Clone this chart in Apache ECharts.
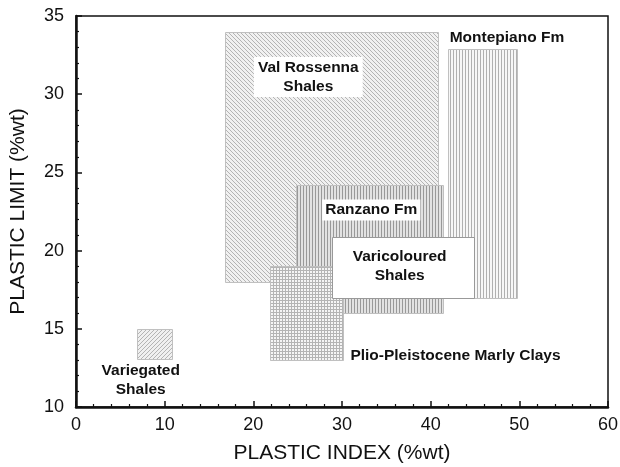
<!DOCTYPE html>
<html><head><meta charset="utf-8">
<script src="https://cdn.jsdelivr.net/npm/echarts@6/dist/echarts.min.js"></script>
<style>html,body{margin:0;padding:0;background:#fff}#c{width:620px;height:467px}</style>
</head><body><div id="c"></div>
<script>
// Regions: plastic index (x) range and plastic limit (y) range
const regionNames = ['Val Rossenna Shales', 'Ranzano Fm', 'Montepiano Fm', 'Plio-Pleistocene Marly Clays', 'Variegated Shales', 'Varicoloured Shales'];
const piMin = [16.8, 24.8, 42.0, 21.9, 6.9, 28.9];
const piMax = [40.8, 41.4, 49.8, 30.1, 10.9, 44.9];
const plMin = [18.0, 16.0, 17.0, 13.0, 13.1, 17.0];
const plMax = [34.0, 24.2, 32.9, 19.0, 15.0, 20.9];

// Label texts and anchors (data coords)
const labelTexts = ['Val Rossenna\nShales', 'Ranzano Fm', 'Montepiano Fm', 'Plio-Pleistocene Marly Clays', 'Variegated\nShales', 'Varicoloured\nShales'];
const labelX = [26.2, 33.3, 48.6, 42.8, 7.3, 36.5];
const labelY = [31.1, 22.6, 33.6, 13.3, 11.7, 19.0];

function makePattern(kind) {
  const c = document.createElement('canvas');
  const ctx = c.getContext('2d');
  if (kind === 'back' || kind === 'fwd') {
    c.width = 4; c.height = 4;
    ctx.fillStyle = kind === 'back' ? '#f1f1f1' : '#f0f0f0'; ctx.fillRect(0,0,4,4);
    ctx.fillStyle = '#b4b4b4';
    for (let k = 0; k < 4; k++) {
      ctx.fillRect(kind === 'back' ? k : 3 - k, k, 1, 1);
    }
  } else if (kind === 'vdense') {
    c.width = 3; c.height = 3;
    ctx.fillStyle = '#e2e2e2'; ctx.fillRect(0,0,3,3);
    ctx.fillStyle = '#999999'; ctx.fillRect(0,0,1,3);
  } else if (kind === 'vlight') {
    c.width = 3; c.height = 3;
    ctx.fillStyle = '#f7f7f7'; ctx.fillRect(0,0,3,3);
    ctx.fillStyle = '#b0b0b0'; ctx.fillRect(0,0,1,3);
  } else if (kind === 'grid') {
    c.width = 3; c.height = 3;
    ctx.fillStyle = '#f5f5f5'; ctx.fillRect(0,0,3,3);
    ctx.fillStyle = '#b4b4b4'; ctx.fillRect(0,0,1,3); ctx.fillRect(0,0,3,1);
  }
  return c;
}
const fills = [
  {image: makePattern('back'), repeat: 'repeat'},
  {image: makePattern('vdense'), repeat: 'repeat'},
  {image: makePattern('vlight'), repeat: 'repeat'},
  {image: makePattern('grid'), repeat: 'repeat'},
  {image: makePattern('fwd'), repeat: 'repeat'},
  '#ffffff'
];

const rectData = regionNames.map((n, i) => [piMin[i], piMax[i], plMin[i], plMax[i]]);
const labelData = labelTexts.map((t, i) => [labelX[i], labelY[i]]);

const labelBg = [true, true, false, false, false, false];
const fontFam = '"Liberation Sans", Arial, sans-serif';

const chart = echarts.init(document.getElementById('c'), null, {renderer: 'canvas'});
chart.setOption({
  animation: false,
  backgroundColor: '#fff',
  grid: {left: 76, right: 12, top: 16, bottom: 60, containLabel: false, outerBoundsMode: 'none', show: true, borderColor: '#111', borderWidth: 1.5, backgroundColor: 'transparent'},
  xAxis: {
    type: 'value', min: 0, max: 60, interval: 10,
    name: 'PLASTIC INDEX (%wt)', nameLocation: 'middle', nameGap: 36,
    nameTextStyle: {fontFamily: fontFam, fontSize: 21, color: '#111'},
    axisLine: {show: true, onZero: false, lineStyle: {color: '#111', width: 2.5}},
    axisTick: {show: true, inside: true, length: 6, lineStyle: {color: '#111', width: 1.5}},
    minorTick: {show: true, splitNumber: 5, length: 3, lineStyle: {color: '#111', width: 1.2}},
    axisLabel: {fontFamily: fontFam, fontSize: 18, color: '#111', margin: 9},
    splitLine: {show: false}
  },
  yAxis: {
    type: 'value', min: 10, max: 35, interval: 5,
    name: 'PLASTIC LIMIT (%wt)', nameLocation: 'middle', nameGap: 47,
    nameTextStyle: {fontFamily: fontFam, fontSize: 21, color: '#111'},
    axisLine: {show: true, onZero: false, lineStyle: {color: '#111', width: 2.5}},
    axisTick: {show: true, inside: true, length: 6, lineStyle: {color: '#111', width: 1.5}},
    minorTick: {show: true, splitNumber: 5, length: 3, lineStyle: {color: '#111', width: 1.2}},
    axisLabel: {fontFamily: fontFam, fontSize: 18, color: '#111', margin: 12},
    splitLine: {show: false}
  },
  series: [
    {
      type: 'custom',
      data: rectData,
      encode: {x: [0, 1], y: [2, 3]},
      clip: true,
      renderItem: function (params, api) {
        const i = params.dataIndex;
        const p0 = api.coord([api.value(0), api.value(3)]);
        const p1 = api.coord([api.value(1), api.value(2)]);
        return {
          type: 'rect',
          shape: {x: Math.round(p0[0]) + 0.5, y: Math.round(p0[1]) + 0.5, width: Math.round(p1[0] - p0[0]), height: Math.round(p1[1] - p0[1])},
          style: {fill: fills[i], stroke: i === 5 ? '#999' : '#c0c0c0', lineWidth: 1}
        };
      }
    },
    {
      type: 'custom',
      data: labelData,
      renderItem: function (params, api) {
        const i = params.dataIndex;
        const p = api.coord([api.value(0), api.value(1)]);
        return {
          type: 'text',
          x: p[0], y: p[1],
          style: {
            text: labelTexts[i],
            fill: '#111',
            font: 'bold 15.5px ' + fontFam,
            align: 'center', verticalAlign: 'middle',
            lineHeight: 19,
            backgroundColor: labelBg[i] ? '#fff' : null,
            padding: labelBg[i] ? (i === 0 ? [1, 4, 1, 4] : [1, 3, 1, 3]) : 0
          }
        };
      }
    }
  ]
});
</script></body></html>
